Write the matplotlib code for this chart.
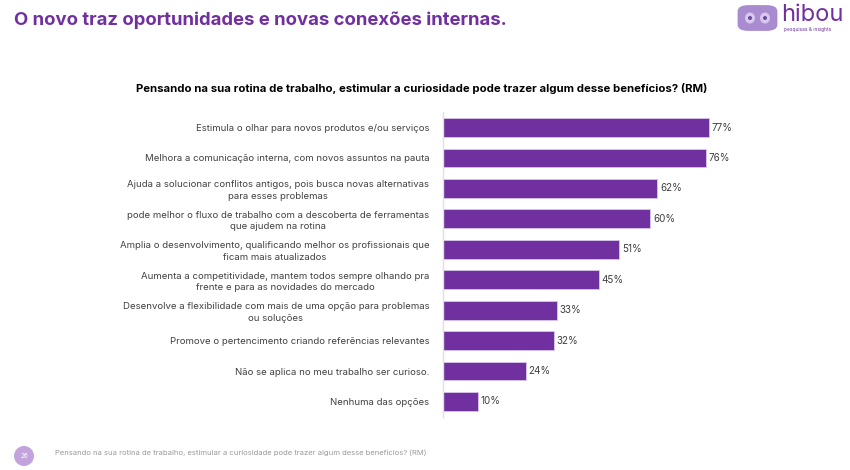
import matplotlib.pyplot as plt
from matplotlib.patches import Circle, FancyBboxPatch, Ellipse

plt.rcParams['font.family'] = ['Inter', 'DejaVu Sans']

categories = [
    "Estimula o olhar para novos produtos e/ou serviços",
    "Melhora a comunicação interna, com novos assuntos na pauta",
    "Ajuda a solucionar conflitos antigos, pois busca novas alternativas\npara esses problemas",
    "pode melhor o fluxo de trabalho com a descoberta de ferramentas\nque ajudem na rotina",
    "Amplia o desenvolvimento, qualificando melhor os profissionais que\nficam mais atualizados",
    "Aumenta a competitividade, mantem todos sempre olhando pra\nfrente e para as novidades do mercado",
    "Desenvolve a flexibilidade com mais de uma opção para problemas\nou soluções",
    "Promove o pertencimento criando referências relevantes",
    "Não se aplica no meu trabalho ser curioso.",
    "Nenhuma das opções",
]
values = [77, 76, 62, 60, 51, 45, 33, 32, 24, 10]

title = "O novo traz oportunidades e novas conexões internas."
question = "Pensando na sua rotina de trabalho, estimular a curiosidade pode trazer algum desse benefícios? (RM)"
page = "26"

purple = '#7030A0'
text_gray = '#404040'

fig = plt.figure(figsize=(8.5, 4.7), dpi=100)
fig.patch.set_facecolor('white')

ax = fig.add_axes([0.5212, 0.1134, 0.4065, 0.6477])
pos = list(range(len(values)))
ax.barh(pos, values, height=0.62, color=purple, edgecolor='#D9C6EA', linewidth=0.6)
ax.set_xlim(0, 100)
ax.set_ylim(len(values) - 0.5, -0.5)
ax.set_yticks(pos)
ax.set_yticklabels(categories, fontsize=6.9, color=text_gray, linespacing=1.35)
for lab in ax.get_yticklabels():
    lab.set_multialignment('center')
ax.tick_params(axis='y', length=0, pad=10)
ax.set_xticks([])
for s in ['top', 'right', 'bottom']:
    ax.spines[s].set_visible(False)
ax.spines['left'].set_color('#E0E0E0')
ax.spines['left'].set_linewidth(1)

for p, v in zip(pos, values):
    ax.text(v + 0.8, p, f"{v}%", va='center', ha='left', fontsize=7.1, color=text_gray)

# title and subtitle
fig.text(14 / 850, 1 - 20 / 470, title, fontsize=13.3, fontweight='bold', color=purple,
         ha='left', va='center')
fig.text(422 / 850, 1 - 88 / 470, question, fontsize=8.2, fontweight='bold', color='black',
         ha='center', va='center')

# footer
fig.patches.append(Ellipse((24 / 850, 1 - 456 / 470), 20 / 850, 20 / 470, transform=fig.transFigure,
                           facecolor='#C3A3DC', edgecolor='none'))
fig.text(24 / 850, 1 - 456 / 470, page, fontsize=4.5, color='white', ha='center', va='center')
fig.text(55 / 850, 1 - 453 / 470, question, fontsize=5.5, color='#9A9A9A', ha='left', va='center')

# logo
fig.patches.append(FancyBboxPatch((741 / 850, 1 - 29 / 470), 33 / 850, 22 / 470,
                                  boxstyle='round,pad=0.004,rounding_size=0.013',
                                  transform=fig.transFigure, facecolor='#A98BD0',
                                  edgecolor='none'))
for ex in (750, 765):
    fig.patches.append(Ellipse((ex / 850, 1 - 18 / 470), 10 / 850, 11 / 470,
                               transform=fig.transFigure, facecolor='#D8C8EE', edgecolor='none'))
    fig.patches.append(Ellipse((ex / 850, 1 - 18 / 470), 4 / 850, 4 / 470,
                               transform=fig.transFigure, facecolor='#6A4C9C', edgecolor='none'))
fig.text(781 / 850, 1 - 15 / 470, "hibou", fontsize=17, color=purple, ha='left', va='center')
fig.text(784 / 850, 1 - 29 / 470, "pesquisas & insights", fontsize=3.5, color=purple,
         ha='left', va='center')

fig.savefig('out.png', dpi=100)
